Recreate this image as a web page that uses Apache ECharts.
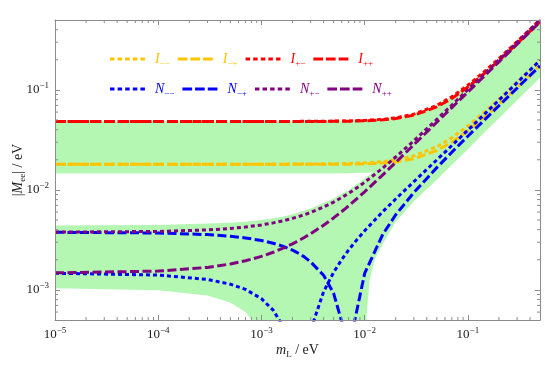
<!DOCTYPE html>
<html>
<head>
<meta charset="utf-8">
<script src="https://cdn.jsdelivr.net/npm/echarts@6/dist/echarts.min.js"></script>
<style>
html,body{margin:0;padding:0;background:#fff;}
#chart{width:545px;height:367px;}
</style>
</head>
<body>
<div id="chart"></div>
<script>
/* |M_ee| against lightest mass, log-log */
var mL = [1e-5, 1e-4, 3e-4, 5e-4, 7e-4, 1e-3, 1.3e-3, 1.6e-3, 2e-3, 2.2e-3, 2.3e-3, 2.4e-3, 2.6e-3, 3e-3, 4e-3, 5e-3,
  6e-3, 6.5e-3, 6.7e-3, 7e-3, 8e-3, 1e-2, 1.5e-2, 2e-2, 3e-2, 5e-2, 7e-2, 0.1, 0.15, 0.2, 0.3, 0.5];

var I_mm = [0.01804, 0.01804, 0.01805, 0.01805, 0.01806, 0.01807, 0.01808, 0.01809, 0.01811, 0.01811, 0.01812, 0.01812, 0.01813, 0.01814, 0.01819, 0.01825,
  0.01832, 0.01835, 0.01837, 0.01839, 0.01847, 0.01865, 0.01922, 0.01997, 0.02189, 0.02703, 0.03323, 0.04355, 0.06195, 0.08096, 0.1197, 0.1979];
var I_mp = [0.01804, 0.01803, 0.01803, 0.01803, 0.01803, 0.01802, 0.01802, 0.01801, 0.01801, 0.01801, 0.01801, 0.01801, 0.01801, 0.01801, 0.01801, 0.01802,
  0.01804, 0.01805, 0.01806, 0.01807, 0.01810, 0.01819, 0.01853, 0.01905, 0.02051, 0.02473, 0.03001, 0.03895, 0.05505, 0.07176, 0.1059, 0.1749];
var I_pm = [0.04834, 0.04834, 0.04835, 0.04835, 0.04836, 0.04837, 0.04839, 0.04840, 0.04843, 0.04844, 0.04845, 0.04846, 0.04847, 0.04850, 0.04859, 0.04870,
  0.04883, 0.04891, 0.04894, 0.04898, 0.04915, 0.04955, 0.05086, 0.05260, 0.05722, 0.06988, 0.08536, 0.1113, 0.1578, 0.2059, 0.3040, 0.5024];
var I_pp = [0.04834, 0.04834, 0.04834, 0.04833, 0.04833, 0.04833, 0.04833, 0.04833, 0.04833, 0.04833, 0.04833, 0.04834, 0.04835, 0.04836, 0.04841, 0.04847,
  0.04856, 0.04861, 0.04863, 0.04866, 0.04878, 0.04909, 0.05017, 0.05168, 0.05584, 0.06758, 0.08214, 0.1067, 0.1509, 0.1967, 0.2902, 0.4794];

var N_mm = [0.001467, 0.001407, 0.001273, 0.001141, 0.001011, 0.000817, 0.000627, 0.000440, 0.000194, 0.0000735, 0.0000136, 0.000046, 0.000164, 0.000397, 0.000959, 0.001496,
  0.002010, 0.002260, 0.002358, 0.002505, 0.002984, 0.003904, 0.006063, 0.008115, 0.012100, 0.019951, 0.027787, 0.039558, 0.059211, 0.078885, 0.118257, 0.197035];
var N_mp = [0.003767, 0.003707, 0.003573, 0.003441, 0.003311, 0.003118, 0.002928, 0.002741, 0.002496, 0.002376, 0.002316, 0.002257, 0.002139, 0.001907, 0.001400, 0.000930,
  0.000480, 0.000240, 0.000140, 0.000010, 0.000490, 0.001460, 0.003600, 0.005638, 0.009418, 0.016698, 0.023830, 0.034415, 0.051938, 0.069402, 0.104267, 0.17392];
var N_pm = [0.003781, 0.003842, 0.003978, 0.004115, 0.004254, 0.004466, 0.004680, 0.004898, 0.005192, 0.005341, 0.005416, 0.005492, 0.005644, 0.005951, 0.006740, 0.007556,
  0.008395, 0.008822, 0.008994, 0.009253, 0.010129, 0.011921, 0.016559, 0.021322, 0.031022, 0.050702, 0.070530, 0.100385, 0.150262, 0.2002, 0.300133, 0.50008];
var N_pp = [0.001481, 0.001542, 0.001678, 0.001815, 0.001954, 0.002165, 0.002379, 0.002596, 0.002890, 0.003039, 0.003114, 0.003189, 0.003341, 0.003647, 0.004433, 0.005244,
  0.006078, 0.006502, 0.006673, 0.006931, 0.007800, 0.009576, 0.014158, 0.018845, 0.028340, 0.047449, 0.066573, 0.095242, 0.142989, 0.190715, 0.286143, 0.47703];

// green allowed region (outer top, gap top, lower band top, outer bottom)
var bandX = [1e-5, 1e-4, 3e-4, 5e-4, 7e-4, 1e-3, 1.3e-3, 1.6e-3, 2e-3, 3e-3, 5e-3, 7e-3, 9.8e-3, 1.05e-2, 1.12e-2, 1.25e-2,
  1.5e-2, 2e-2, 3e-2, 5e-2, 7e-2, 0.1, 0.15, 0.2, 0.3, 0.5];
var bandTop = [0.0486, 0.0486, 0.0486, 0.0486, 0.0486, 0.0486, 0.0487, 0.0487, 0.0487, 0.0488, 0.0490, 0.0493, 0.0498, 0.0499, 0.0501, 0.0504,
  0.0511, 0.0528, 0.0575, 0.0702, 0.0857, 0.1118, 0.1585, 0.2068, 0.305, 0.505];
var gapTop = [0.0146, 0.0146, 0.0146, 0.0146, 0.0146, 0.0146, 0.0146, 0.0146, 0.0146, 0.0146, 0.0146, 0.0147, 0.0148, 0.0148, 0.0149, 0.0149,
  0.0150, 0.0153, 0.0164, 0.0196, 0.0238, 0.031, 0.044, 0.058, 0.086, 0.142];
var noTop = [0.0044, 0.00445, 0.0046, 0.0047, 0.0048, 0.0050, 0.0052, 0.0054, 0.0057, 0.0065, 0.0082, 0.0100, 0.0128, 0.0135, 0.0142, 0.0155,
  0.0180, 0.022, 0.031, 0.050, 0.070, 0.098, 0.145, 0.19, 0.28, 0.46];
var bandBottom = [0.00104, 0.00099, 0.00088, 0.00075, 0.00060, 0.00038, 0.00016, 0.0001, 0.0001, 0.0001, 0.0001, 0.0001, 0.0001, 0.0006, 0.00126, 0.0020,
  0.0029, 0.0048, 0.0077, 0.0126, 0.0178, 0.0255, 0.039, 0.052, 0.079, 0.132];

var xMajorExp = [-5, -4, -3, -2, -1];
var yMajorExp = [-3, -2, -1];

(function(){
  var el = document.getElementById('chart');
  var c = echarts.init(el);
  var X_MIN = 1e-5, X_MAX = 0.5, Y_MIN = 5e-4, Y_MAX = 0.5;
  var serif = '"Liberation Serif", "DejaVu Serif", serif';
  var frame = '#8c8c8c';
  var txt = '#222';
  var yellow = '#ffc400', red = '#ff0000', blue = '#0000ff', purple = '#800080';
  var green = '#b3f7b3';
  var cols = {y: yellow, r: red, b: blue, p: purple};
  var keyOf = {'I\u2212\u2212':'y','I\u2212+':'y','I+\u2212':'r','I++':'r',
               'N\u2212\u2212':'b','N\u2212+':'b','N+\u2212':'p','N++':'p'};
  var dotIcon = 'path://M0,0h4.5v3h-4.5zM7.6,0h4.5v3h-4.5zM15.2,0h4.5v3h-4.5zM22.8,0h4.5v3h-4.5zM30.4,0h4.5v3h-4.5z';
  var dashIcon = 'path://M0,0h9.7v3h-9.7zM12.6,0h9.7v3h-9.7zM25.3,0h9.7v3h-9.7z';

  function pairs(xs, ys){ return xs.map(function(x, i){ return [x, ys[i]]; }); }

  function powLabel(exps){
    return function(v){
      var l = Math.log10(v), e = Math.round(l);
      if (Math.abs(l - e) > 1e-6 || exps.indexOf(e) < 0) return '';
      return '{b|10}{s|\u2212' + Math.abs(e) + '}';
    };
  }
  var tickRich = {
    b:{fontFamily:serif, fontSize:13, color:txt, lineHeight:18},
    s:{fontFamily:serif, fontSize:9, color:txt, lineHeight:11, verticalAlign:'top'}
  };
  var nameRich = {
    i:{fontFamily:serif, fontStyle:'italic', fontSize:14, color:txt, lineHeight:18},
    sub:{fontFamily:serif, fontSize:9, color:txt, lineHeight:10, verticalAlign:'bottom'},
    n:{fontFamily:serif, fontSize:14, color:txt, lineHeight:18}
  };

  var legendRich = {};
  Object.keys(cols).forEach(function(k){
    legendRich['i' + k] = {fontFamily:serif, fontStyle:'italic', fontSize:14, color:cols[k], lineHeight:18, padding:[0,0,0,5]};
    legendRich['s' + k] = {fontFamily:serif, fontSize:9, color:cols[k], lineHeight:10, verticalAlign:'bottom'};
  });
  function legendRow(names, top){
    return {
      top: top, left: 110, padding: 0, itemWidth: 35, itemHeight: 3, itemGap: 8,
      selectedMode: false, itemStyle: {borderWidth: 0},
      data: names.map(function(n, i){ return {name: n, icon: i % 2 === 0 ? dotIcon : dashIcon}; }),
      formatter: function(n){ var k = keyOf[n]; return '{i' + k + '|' + n.charAt(0) + '}{s' + k + '|' + n.slice(1) + '}'; },
      textStyle: {width: 24, rich: legendRich}
    };
  }

  function area(name, ys, color, z){
    return {type:'line', name:name, data:pairs(bandX, ys), symbol:'none', silent:true,
      lineStyle:{width:0}, areaStyle:{color:color, opacity:1, origin:'start'}, z:z};
  }
  function curve(name, ys, dotted){
    var col = cols[keyOf[name]];
    return {type:'line', name:name, data:pairs(mL, ys), symbol:'none', silent:true, color:col, z:5,
      lineStyle:{color:col, width:3, type: dotted ? [4, 3] : [9, 3.5], cap:'butt'}};
  }

  function minorTicks(lo, hi){
    var out = [];
    for (var e = -5; e <= 0; e++) {
      for (var k = 2; k <= 9; k++) {
        var v = k * Math.pow(10, e);
        if (v > lo * 1.001 && v < hi * 0.999) out.push(v);
      }
    }
    return out;
  }
  function tickSeries(isX){
    var vals = isX ? minorTicks(X_MIN, X_MAX) : minorTicks(Y_MIN, Y_MAX);
    return {type:'custom', silent:true, z:8, clip:false,
      data: vals.map(function(v){ return isX ? [v, Y_MIN] : [X_MIN, v]; }),
      renderItem: function(params, api){
        var cs = params.coordSys;
        var st = {stroke: frame, lineWidth: 1};
        if (isX) {
          var px = api.coord([api.value(0), Y_MIN])[0];
          var b = cs.y + cs.height, t = cs.y;
          return {type:'group', children:[
            {type:'line', shape:{x1:px, y1:b, x2:px, y2:b - 3}, style:st},
            {type:'line', shape:{x1:px, y1:t, x2:px, y2:t + 3}, style:st}]};
        }
        var py = api.coord([X_MIN, api.value(1)])[1];
        var l = cs.x, r = cs.x + cs.width;
        return {type:'group', children:[
          {type:'line', shape:{x1:l, y1:py, x2:l + 3, y2:py}, style:st},
          {type:'line', shape:{x1:r, y1:py, x2:r - 3, y2:py}, style:st}]};
      }};
  }

  function axisBase(min, max, pos){
    return {type:'log', logBase:10, min:min, max:max, position:pos, z:10,
      axisLine:{onZero:false, lineStyle:{color:frame, width:1}},
      axisTick:{inside:true, length:5, lineStyle:{color:frame}},
      splitLine:{show:false}, minorTick:{show:false}};
  }

  var xb = axisBase(X_MIN, X_MAX, 'bottom');
  xb.axisLabel = {formatter: powLabel(xMajorExp), rich: tickRich, margin: 6};
  xb.name = '{i|m}{sub|L}{n| / eV}';
  xb.nameLocation = 'middle';
  xb.nameGap = 21;
  xb.nameMoveOverlap = false;
  xb.nameTextStyle = {rich: nameRich};
  var xt = axisBase(X_MIN, X_MAX, 'top');
  xt.axisLabel = {show:false};

  var yl = axisBase(Y_MIN, Y_MAX, 'left');
  yl.axisLabel = {formatter: powLabel(yMajorExp), rich: tickRich, margin: 6};
  yl.name = '{n||}{i|M}{sub|ee}{n|| / eV}';
  yl.nameLocation = 'middle';
  yl.nameGap = 28;
  yl.nameMoveOverlap = false;
  yl.nameTextStyle = {rich: nameRich};
  var yr = axisBase(Y_MIN, Y_MAX, 'right');
  yr.axisLabel = {show:false};

  c.setOption({
    animation: false,
    grid: {left:55, right:5, top:20, bottom:47, containLabel:false, outerBoundsMode:'none'},
    legend: [
      legendRow(['I\u2212\u2212', 'I\u2212+', 'I+\u2212', 'I++'], 52),
      legendRow(['N\u2212\u2212', 'N\u2212+', 'N+\u2212', 'N++'], 82)
    ],
    xAxis: [xb, xt],
    yAxis: [yl, yr],
    series: [
      area('bandTop', bandTop, green, 1),
      area('gapTop', gapTop, '#ffffff', 1.1),
      area('noTop', noTop, green, 1.2),
      area('bandBottom', bandBottom, '#ffffff', 1.3),
      curve('I\u2212\u2212', I_mm, true),
      curve('I\u2212+', I_mp, false),
      curve('I+\u2212', I_pm, true),
      curve('I++', I_pp, false),
      curve('N\u2212\u2212', N_mm, true),
      curve('N\u2212+', N_mp, false),
      curve('N+\u2212', N_pm, true),
      curve('N++', N_pp, false),
      tickSeries(true),
      tickSeries(false)
    ]
  });
})();
</script>
</body>
</html>
